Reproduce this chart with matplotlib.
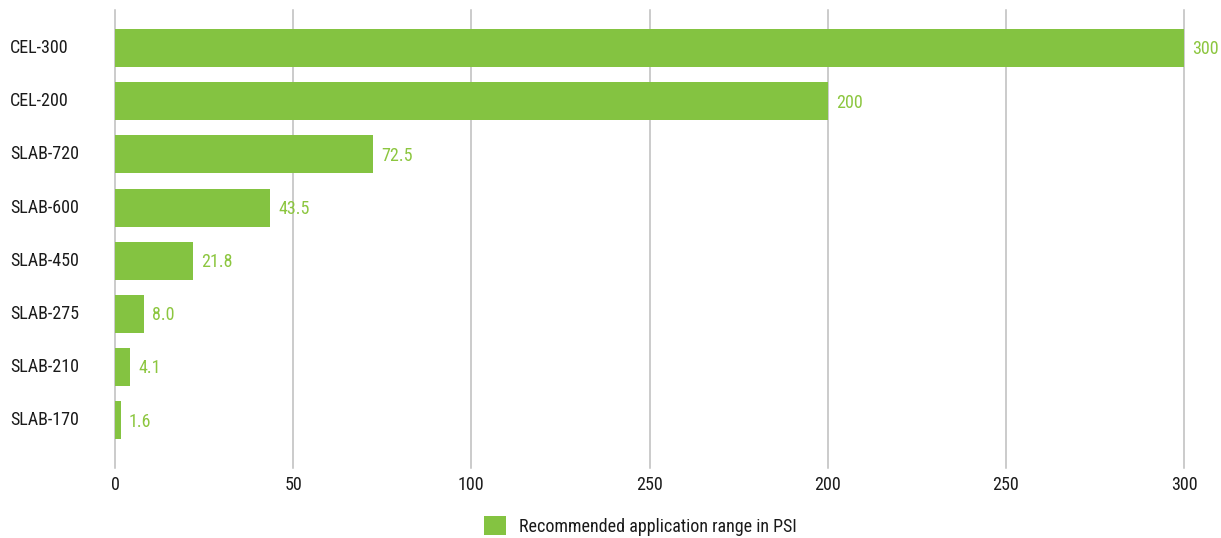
import matplotlib.pyplot as plt
from matplotlib.patches import Patch

# data (top to bottom)
products = ['CEL-300', 'CEL-200', 'SLAB-720', 'SLAB-600', 'SLAB-450', 'SLAB-275', 'SLAB-210', 'SLAB-170']
psi = [300, 200, 72.5, 43.5, 21.8, 8.0, 4.1, 1.6]
value_labels = ['300', '200', '72.5', '43.5', '21.8', '8.0', '4.1', '1.6']
x_ticks = [0, 50, 100, 150, 200, 250, 300]
x_tick_labels = ['0', '50', '100', '250', '200', '250', '300']  # as printed in the original
series_name = 'Recommended application range in PSI'

bar_color = '#84c341'
label_color = '#8cc63f'
grid_color = '#bdbdbd'
text_color = '#1a1a1a'

plt.rcParams['font.family'] = ['Roboto Condensed', 'Roboto', 'DejaVu Sans']
fs = 13

fig = plt.figure(figsize=(12.21, 5.38), dpi=100)
ax = fig.add_axes([0.0942, 0.130, 0.8755, 0.8513])

ypos = list(range(len(products)))[::-1]
bars = ax.barh(ypos, psi, height=0.715, color=bar_color, zorder=3)

for b, lab in zip(bars, value_labels):
    ax.annotate(lab, (b.get_width(), b.get_y() + b.get_height() / 2),
                xytext=(6, -1), textcoords='offset points',
                ha='left', va='center', color=label_color, fontsize=fs, zorder=4)

ax.set_xlim(0, 300)
ax.set_ylim(-0.9, 7.715)
ax.set_xticks(x_ticks)
ax.set_xticklabels(x_tick_labels, fontsize=fs, color=text_color)
ax.set_yticks(ypos)
ax.set_yticklabels(products, fontsize=fs, color=text_color)
for t in ax.get_yticklabels():
    t.set_ha('left')
    t.set_va('center')
ax.tick_params(axis='y', length=0, pad=75.6)
ax.tick_params(axis='x', length=0, pad=6)

ax.grid(axis='x', color=grid_color, linewidth=1.1, zorder=0)
for l in ax.get_xgridlines():
    l.set_clip_on(False)
for s in ax.spines.values():
    s.set_visible(False)

handle = Patch(facecolor=bar_color, edgecolor='none', label=series_name)
fig.legend(handles=[handle], loc='center', bbox_to_anchor=(640 / 1221, 0.0223),
           frameon=False, fontsize=fs, handlelength=1.25, handleheight=1.25,
           handletextpad=0.7, labelcolor=text_color)

fig.savefig('out.png', dpi=100)
